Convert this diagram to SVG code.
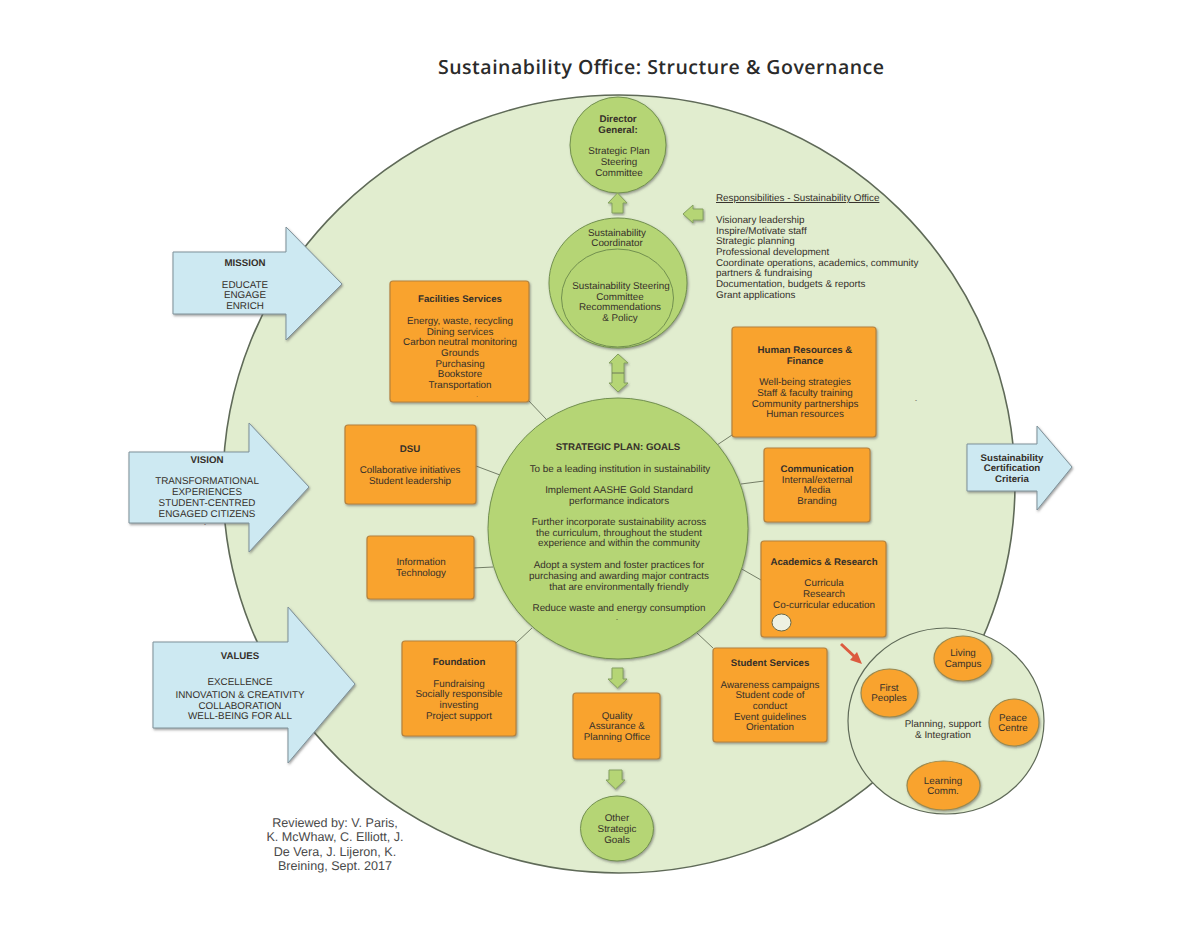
<svg xmlns="http://www.w3.org/2000/svg" width="1200" height="927" viewBox="0 0 1200 927">
<defs>
<filter id="sh" x="-10%" y="-10%" width="125%" height="125%"><feDropShadow dx="1" dy="1.5" stdDeviation="0.8" flood-color="#555" flood-opacity="0.55"/></filter>
</defs>
<style>
text{font-family:"Liberation Sans",Arial,sans-serif;font-size:9.85px;fill:#35302a;text-anchor:middle;text-rendering:geometricPrecision}
.b{font-weight:bold;font-size:9.7px}
.l{text-anchor:start}
.d{font-size:6px}
.r{font-size:12.6px;fill:#4a4a4a}
.bx{fill:#f9a32d;stroke:#b5823c;stroke-width:1.2;filter:url(#sh)}
.ov{fill:#f9a32d;stroke:#9a8a50;stroke-width:1.2;filter:url(#sh)}
.gc{fill:#b5d574;stroke:#72904f;stroke-width:1;filter:url(#sh)}
.ga{fill:#b5d574;stroke:#84a060;stroke-width:1;filter:url(#sh)}
.ba{fill:#cde9f2;stroke:#7e9199;stroke-width:1;filter:url(#sh)}
.c{stroke:#66705a;stroke-width:0.9;fill:none}
</style>
<rect width="1200" height="927" fill="#fff"/>
<ellipse id="outer-circle" cx="619" cy="484" rx="396" ry="389" fill="#e1edcf" stroke="#5f6a58" stroke-width="1.6"/>
<text id="title" x="661" y="74" textLength="446" lengthAdjust="spacing" style="font-family:'Open Sans',sans-serif;font-size:19.5px;font-weight:600;fill:#2b2b2b">Sustainability Office: Structure &amp; Governance</text>
<g id="connectors">
<path class="c" d="M528 400L546 419M476 466L500 475M473 568L493 567M516 643L532 628M735 433L717 445M741 484L764 481M740 568L761 580M697 633L713 648"/>
</g>
<g id="mission"><path class="ba" d="M173 252H286V227L342 284L286 340V314H173Z"/><text class="b" x="245" y="266">MISSION</text><text x="245" y="288">EDUCATE</text><text x="245" y="298">ENGAGE</text><text x="245" y="309">ENRICH</text></g>
<g id="vision"><path class="ba" d="M129 452H249V423L309 487L249 552V523H129Z"/><text class="b" x="207" y="463">VISION</text><text x="207" y="484">TRANSFORMATIONAL</text><text x="207" y="495">EXPERIENCES</text><text x="207" y="506">STUDENT-CENTRED</text><text x="207" y="517">ENGAGED CITIZENS</text><text class="d" x="205" y="526">-</text></g>
<g id="values"><path class="ba" d="M153 642H288V607L355 684L288 763V728H153Z"/><text class="b" x="240" y="659">VALUES</text><text x="240" y="685">EXCELLENCE</text><text x="240" y="698">INNOVATION &amp; CREATIVITY</text><text x="240" y="709">COLLABORATION</text><text x="240" y="719">WELL-BEING FOR ALL</text></g>
<g id="certification"><path class="ba" d="M967 444H1037V426L1072 467L1037 510V491H967Z"/><text class="b" x="1012" y="461">Sustainability</text><text class="b" x="1012" y="471">Certification</text><text class="b" x="1012" y="482">Criteria</text></g>
<g id="director"><circle class="gc" cx="618" cy="145" r="48"/><text class="b" x="618" y="122">Director</text><text class="b" x="618" y="133">General:</text><text x="619" y="154">Strategic Plan</text><text x="619" y="165">Steering</text><text x="619" y="176">Committee</text></g>
<g id="arrow-up"><path class="ga" d="M612 213V203H608L617.500 193L627 203H623V213Z"/></g>
<g id="arrow-left"><path class="ga" d="M703 209H693V205L683 214L693 223V220H703Z"/></g>
<g id="coordinator"><ellipse class="gc" cx="618" cy="283" rx="69" ry="65"/><ellipse cx="617.500" cy="298" rx="56" ry="49" fill="#b5d574" stroke="#72904f" stroke-width="1"/><text x="617" y="236">Sustainability</text><text x="617" y="246">Coordinator</text><text x="621" y="289">Sustainability Steering</text><text x="620" y="300">Committee</text><text x="620" y="310">Recommendations</text><text x="620" y="321">&amp; Policy</text></g>
<g id="arrow-double"><path class="ga" d="M618 354L628 363H624V383H628L618 392L609 383H612V363H609Z"/><path class="c" d="M612 373H624"/></g>
<g id="responsibilities"><text class="l" x="716" y="201" text-decoration="underline">Responsibilities - Sustainability Office</text><text class="l" x="716" y="223">Visionary leadership</text><text class="l" x="716" y="234">Inspire/Motivate staff</text><text class="l" x="716" y="244">Strategic planning</text><text class="l" x="716" y="255">Professional development</text><text class="l" x="716" y="266">Coordinate operations, academics, community</text><text class="l" x="716" y="276">partners &amp; fundraising</text><text class="l" x="716" y="287">Documentation, budgets &amp; reports</text><text class="l" x="716" y="298">Grant applications</text></g>
<g id="facilities"><rect class="bx" x="390" y="281" width="139" height="121" rx="3"/><text class="b" x="460" y="302">Facilities Services</text><text x="460" y="324">Energy, waste, recycling</text><text x="460" y="335">Dining services</text><text x="460" y="345">Carbon neutral monitoring</text><text x="460" y="356">Grounds</text><text x="460" y="367">Purchasing</text><text x="460" y="377">Bookstore</text><text x="460" y="388">Transportation</text><text class="d" x="477" y="397">.</text></g>
<g id="dsu"><rect class="bx" x="345" y="425" width="131" height="79" rx="3"/><text class="b" x="410" y="452">DSU</text><text x="410" y="473">Collaborative initiatives</text><text x="410" y="484">Student leadership</text></g>
<g id="it"><rect class="bx" x="367" y="536" width="107" height="63" rx="3"/><text x="421" y="565">Information</text><text x="421" y="576">Technology</text></g>
<g id="foundation"><rect class="bx" x="402" y="641" width="114" height="95" rx="3"/><text class="b" x="459" y="665">Foundation</text><text x="459" y="687">Fundraising</text><text x="459" y="697">Socially responsible</text><text x="459" y="708">investing</text><text x="459" y="719">Project support</text></g>
<g id="hr"><rect class="bx" x="732" y="327" width="144" height="110" rx="3"/><text class="b" x="805" y="353">Human Resources &amp;</text><text class="b" x="805" y="364">Finance</text><text x="805" y="385">Well-being strategies</text><text x="805" y="396">Staff &amp; faculty training</text><text x="805" y="407">Community partnerships</text><text x="805" y="417">Human resources</text></g>
<text class="d" x="916" y="402">-</text>
<g id="communication"><rect class="bx" x="764" y="448" width="106" height="74" rx="3"/><text class="b" x="817" y="472">Communication</text><text x="817" y="483">Internal/external</text><text x="817" y="493">Media</text><text x="817" y="504">Branding</text></g>
<g id="academics"><rect class="bx" x="761" y="541" width="125" height="96" rx="3"/><text class="b" x="824" y="565">Academics &amp; Research</text><text x="824" y="586">Curricula</text><text x="824" y="597">Research</text><text x="824" y="608">Co-curricular education</text><ellipse cx="781.500" cy="622.500" rx="9.500" ry="8.500" fill="#eef1e2" stroke="#6a6a4a" stroke-width="1"/></g>
<g id="students"><rect class="bx" x="713" y="648" width="114" height="94" rx="3"/><text class="b" x="770" y="666">Student Services</text><text x="770" y="688">Awareness campaigns</text><text x="770" y="698">Student code of</text><text x="770" y="709">conduct</text><text x="770" y="720">Event guidelines</text><text x="770" y="730">Orientation</text></g>
<g id="goals"><ellipse class="gc" cx="618" cy="528.500" rx="130" ry="130.500"/><text class="b" x="618" y="450">STRATEGIC PLAN: GOALS</text><text x="620" y="472">To be a leading institution in sustainability</text><text x="619" y="493">Implement AASHE Gold Standard</text><text x="619" y="504">performance indicators</text><text x="619" y="525">Further incorporate sustainability across</text><text x="619" y="536">the curriculum, throughout the student</text><text x="619" y="546">experience and within the community</text><text x="619" y="568">Adopt a system and foster practices for</text><text x="619" y="579">purchasing and awarding major contracts</text><text x="619" y="590">that are environmentally friendly</text><text x="619" y="611">Reduce waste and energy consumption</text><text class="d" x="617" y="621">-</text></g>
<g id="arrow-qa"><path class="ga" d="M612 668H623V679H627L617.500 688L608 679H612Z"/></g>
<g id="quality"><rect class="bx" x="573" y="693" width="87" height="66" rx="3"/><text x="617" y="719">Quality</text><text x="617" y="729">Assurance &amp;</text><text x="617" y="740">Planning Office</text></g>
<g id="arrow-other"><path class="ga" d="M609 770H622V780H625L615.500 789L606 780H609Z"/></g>
<g id="other-goals"><ellipse class="gc" cx="617" cy="828.500" rx="36.500" ry="32.500"/><text x="617" y="821">Other</text><text x="617" y="832">Strategic</text><text x="617" y="843">Goals</text></g>
<g id="planning"><ellipse cx="946" cy="721" rx="98" ry="93" fill="#e1edcf" stroke="#5f6a58" stroke-width="1.2"/><text x="943" y="727">Planning, support</text><text x="943" y="738">&amp; Integration</text>
<g id="living-campus"><ellipse class="ov" cx="963" cy="658.500" rx="29" ry="22.500"/><text x="963" y="656">Living</text><text x="963" y="667">Campus</text></g>
<g id="first-peoples"><ellipse class="ov" cx="889.500" cy="693" rx="28.500" ry="24"/><text x="889" y="691">First</text><text x="889" y="701">Peoples</text></g>
<g id="peace-centre"><ellipse class="ov" cx="1014" cy="722.500" rx="25" ry="23.500"/><text x="1013" y="721">Peace</text><text x="1013" y="731">Centre</text></g>
<g id="learning"><ellipse class="ov" cx="943.500" cy="785.500" rx="36.500" ry="24.500"/><text x="943" y="784">Learning</text><text x="943" y="794">Comm.</text></g></g>
<g id="arrow-red"><path d="M841 644L856 658" stroke="#dc5b3f" stroke-width="3" fill="none"/><path d="M862 664L850 660L857 652Z" fill="#dc5b3f"/></g>
<g id="reviewed"><text class="r" x="335" y="827">Reviewed by: V. Paris,</text><text class="r" x="335" y="841">K. McWhaw, C. Elliott, J.</text><text class="r" x="335" y="856">De Vera, J. Lijeron, K.</text><text class="r" x="335" y="870">Breining, Sept. 2017</text></g>
</svg>
